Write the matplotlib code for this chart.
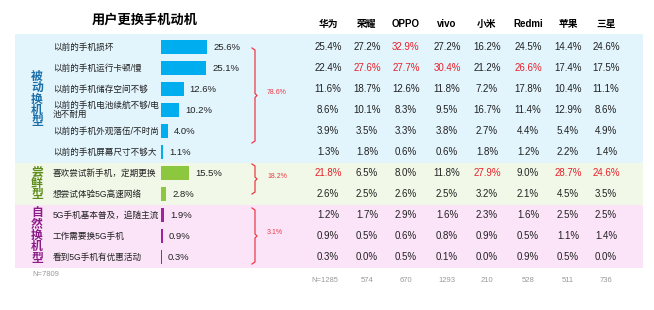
import numpy as np
import matplotlib.pyplot as plt
from matplotlib.patches import Rectangle

plt.rcParams['font.family'] = ['Liberation Sans', 'Noto Sans CJK SC']

# data
title = "用户更换手机动机"
groups = ["被动换机型", "尝鲜型", "自然换机型"]
group_sizes = [6, 2, 3]
group_totals = ["78.6%", "18.2%", "3.1%"]
reasons = [
    "以前的手机损坏",
    "以前的手机运行卡顿/慢",
    "以前的手机储存空间不够",
    "以前的手机电池续航不够/电\n池不耐用",
    "以前的手机外观落伍/不时尚",
    "以前的手机屏幕尺寸不够大",
    "喜欢尝试新手机，定期更换",
    "想尝试体验5G高速网络",
    "5G手机基本普及，追随主流",
    "工作需要换5G手机",
    "看到5G手机有优惠活动",
]
overall = [25.6, 25.1, 12.6, 10.2, 4.0, 1.1, 15.5, 2.8, 1.9, 0.9, 0.3]
brands = ["华为", "荣耀", "OPPO", "vivo", "小米", "Redmi", "苹果", "三星"]
brand_values = [
    [25.4, 27.2, 32.9, 27.2, 16.2, 24.5, 14.4, 24.6],
    [22.4, 27.6, 27.7, 30.4, 21.2, 26.6, 17.4, 17.5],
    [11.6, 18.7, 12.6, 11.8, 7.2, 17.8, 10.4, 11.1],
    [8.6, 10.1, 8.3, 9.5, 16.7, 11.4, 12.9, 8.6],
    [3.9, 3.5, 3.3, 3.8, 2.7, 4.4, 5.4, 4.9],
    [1.3, 1.8, 0.6, 0.6, 1.8, 1.2, 2.2, 1.4],
    [21.8, 6.5, 8.0, 11.8, 27.9, 9.0, 28.7, 24.6],
    [2.6, 2.5, 2.6, 2.5, 3.2, 2.1, 4.5, 3.5],
    [1.2, 1.7, 2.9, 1.6, 2.3, 1.6, 2.5, 2.5],
    [0.9, 0.5, 0.6, 0.8, 0.9, 0.5, 1.1, 1.4],
    [0.3, 0.0, 0.5, 0.1, 0.0, 0.9, 0.5, 0.0],
]
# cells shown in red (row, column)
highlights = [(0, 2), (1, 1), (1, 2), (1, 3), (1, 5), (6, 0), (6, 4), (6, 6), (6, 7)]
n_total = "N=7809"
brand_n = ["N=1285", "574", "670", "1293", "210", "528", "511", "736"]

# layout (pixels)
row_y = 47 + 21 * np.arange(len(reasons))
col_x = [328, 367, 406, 447, 487, 528, 568, 606]
bar_left = 161
px_per_pct = 1.8
band_colors = ["#e2f4fc", "#f1f8e8", "#fbe4f8"]
bar_colors = ["#00aeef", "#8dc63f", "#a3219f"]
label_colors = ["#1b6fa8", "#5e8c1a", "#8a1a86"]
brace_pad = [(1, -9), (-9, 0), (-7, 7)]
red = "#e8202a"

fig = plt.figure(figsize=(6.54, 3.10), dpi=100)
ax = fig.add_axes([0, 0, 1, 1])
ax.set_xlim(0, 654)
ax.set_ylim(310, 0)
ax.axis("off")

ax.text(145, 20, title, ha="center", va="center", fontsize=9.5, fontweight="bold")
for x, b in zip(col_x, brands):
    ax.text(x, 24, b, ha="center", va="center", fontsize=7, fontweight="bold")

start = 0
for g, size in enumerate(group_sizes):
    rows = list(range(start, start + size))
    top = row_y[rows[0]] - 10.5
    bot = row_y[rows[-1]] + 10.5
    if g == 0:
        top = row_y[0] - 13
    ax.add_patch(Rectangle((15, top), 628, bot - top, color=band_colors[g], lw=0, zorder=0))

    # vertical group label
    mid = (row_y[rows[0]] + row_y[rows[-1]]) / 2
    ax.text(37, mid, "\n".join(groups[g]), ha="center", va="center", fontsize=8.5,
            fontweight="bold", color=label_colors[g], linespacing=0.92)

    vals = np.array([overall[r] for r in rows])
    ys = row_y[rows]
    ax.barh(ys, vals * px_per_pct, left=bar_left, height=14, color=bar_colors[g], zorder=2)
    for y, v in zip(ys, vals):
        ax.text(bar_left + v * px_per_pct + 6, y + 0.5, f"{v:.1f}%", ha="left", va="center",
                fontsize=6.8, color="#222222")

    # brace
    bt = row_y[rows[0]] + brace_pad[g][0]
    bb = row_y[rows[-1]] + brace_pad[g][1]
    bm = (bt + bb) / 2
    ax.plot([252, 255, 255, 257, 255, 255, 252], [bt, bt + 2, bm - 2, bm, bm + 2, bb - 2, bb],
            color="#ee3a44", lw=0.9, zorder=3)
    ax.text(267, bm - 3, group_totals[g], ha="left", va="center", fontsize=5, color="#ee3a44")
    start += size

for i, r in enumerate(reasons):
    ax.text(53, row_y[i], r, ha="left", va="center", fontsize=6.2, color="#222222",
            linespacing=1.0)
    for j, x in enumerate(col_x):
        c = red if (i, j) in highlights else "#222222"
        ax.text(x, row_y[i], f"{brand_values[i][j]:.1f}%", ha="center", va="center",
                fontsize=7, color=c)

ax.text(32, 275, n_total, ha="left", va="center", fontsize=5.5, color="#999999")
for x, n in zip(col_x, brand_n):
    ax.text(x - 3 if n.startswith("N") else x, 280, n, ha="center", va="center",
            fontsize=5.5, color="#999999")

fig.savefig("out.png", dpi=100)
